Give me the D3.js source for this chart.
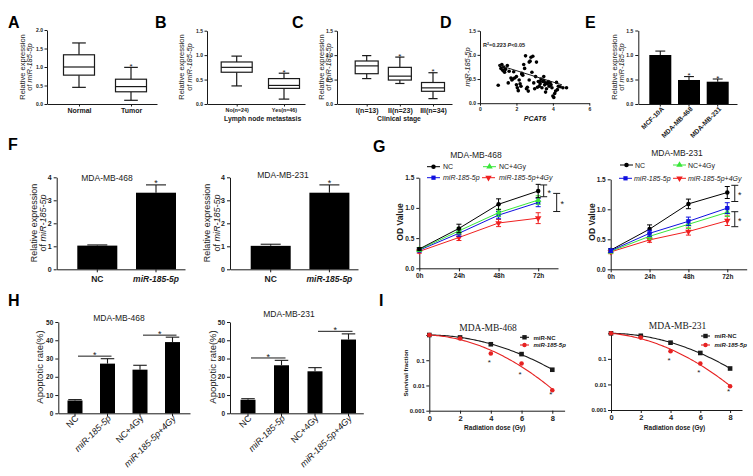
<!DOCTYPE html>
<html><head><meta charset="utf-8">
<script src="https://cdn.jsdelivr.net/npm/d3@7"></script>
<style>body{margin:0;background:#fff}svg{display:block}</style>
</head><body>
<svg id="c" width="753" height="476"></svg>
<script>
// ---------------- DATA ----------------
const catsA = ["Normal", "Tumor"];
const boxA = [[0.45, 0.78, 1.00, 1.33, 1.65], [0.10, 0.33, 0.47, 0.67, 0.99]]; // min,q1,median,q3,max
const starA = [false, true];
const ticksA = [0, 0.5, 1.0, 1.5, 2.0];

const catsB = ["No(n=24)", "Yes(n=46)"];
const boxB = [[0.37, 0.65, 0.75, 0.86, 0.98], [0.10, 0.32, 0.38, 0.52, 0.63]];
const starB = [false, true];

const catsC = ["I(n=13)", "II(n=23)", "III(n=34)"];
const boxC = [[0.52, 0.62, 0.78, 0.88, 0.99], [0.42, 0.49, 0.57, 0.75, 0.96], [0.11, 0.26, 0.33, 0.44, 0.64]];
const starC = [false, true, true];
const ticks15 = [0, 0.5, 1.0, 1.5];

const pcat6 = [1.0,1.1,1.15,1.2,1.25,1.3,1.35,1.4,1.5,1.55,1.6,1.7,1.75,1.8,1.85,1.9,2.0,2.0,2.05,2.1,2.15,2.2,2.25,2.3,2.3,2.35,2.4,2.45,2.5,2.55,2.6,2.65,2.7,2.7,2.75,2.8,2.85,2.9,2.95,3.0,3.05,3.1,3.15,3.2,3.25,3.3,3.3,3.35,3.4,3.45,3.5,3.5,3.55,3.6,3.6,3.65,3.7,3.75,3.8,3.85,3.9,3.95,4.0,4.05,4.1,4.15,4.2,4.25,4.3,4.4,4.55,4.75];
const mir185 = [0.37,0.78,0.72,0.80,0.68,0.75,0.64,0.70,0.78,0.42,0.66,0.52,0.48,0.50,0.65,0.52,0.55,0.38,0.32,0.26,0.48,0.40,0.35,0.60,0.62,0.58,0.80,0.72,0.98,0.30,0.33,0.25,0.48,0.85,0.87,0.95,0.64,0.97,0.42,0.30,0.55,0.85,0.33,0.45,0.35,0.40,0.45,0.50,0.32,0.45,0.55,0.47,0.38,0.42,0.23,0.30,0.40,0.45,0.35,0.42,0.38,0.32,0.15,0.12,0.20,0.25,0.43,0.28,0.35,0.34,0.32,0.32];
const fitDx = [1.0, 4.5];
const fitDy = [0.79, 0.38];
const ticksDx = [0, 2, 4, 6];

const cellsE = ["MCF-10A", "MDA-MB-468", "MDA-MB-231"];
const exprE = [1.00, 0.49, 0.455];
const errE = [0.08, 0.07, 0.055];
const starE = [false, true, true];

const groupsF = ["NC", "miR-185-5p"];
const exprF468 = [1.03, 3.33], errF468 = [0.03, 0.34];
const exprF231 = [1.02, 3.33], errF231 = [0.07, 0.34];
const starF = [false, true];
const ticksF = [0, 1, 2, 3, 4];

const hours = [0, 24, 48, 72];
const seriesNames = ["NC", "NC+4Gy", "miR-185-5p", "miR-185-5p+4Gy"];
const od468NC  = [0.32, 0.66, 1.06, 1.28], od468NCe  = [0.02, 0.07, 0.09, 0.11];
const od468NC4 = [0.31, 0.62, 0.92, 1.13], od468NC4e = [0.03, 0.05, 0.06, 0.07];
const od468miR = [0.30, 0.58, 0.88, 1.09], od468miRe = [0.03, 0.05, 0.06, 0.07];
const od468miR4= [0.28, 0.51, 0.75, 0.83], od468miR4e= [0.03, 0.05, 0.06, 0.09];
const od231NC  = [0.32, 0.67, 1.09, 1.28], od231NCe  = [0.02, 0.07, 0.08, 0.10];
const od231NC4 = [0.30, 0.55, 0.75, 0.95], od231NC4e = [0.03, 0.05, 0.07, 0.07];
const od231miR = [0.31, 0.60, 0.80, 1.02], od231miRe = [0.03, 0.05, 0.07, 0.09];
const od231miR4= [0.29, 0.49, 0.63, 0.81], od231miR4e= [0.03, 0.04, 0.06, 0.08];
const ticksG = [0, 0.5, 1.0, 1.5];
const brk468 = [[1.38, 1.185], [1.24, 0.94]];
const brk231 = [[1.40, 1.13], [0.96, 0.71]];

const groupsH = ["NC", "miR-185-5p", "NC+4Gy", "miR-185-5p+4Gy"];
const apo468 = [7.0, 27.2, 23.9, 39.0], apo468e = [0.5, 2.7, 2.4, 2.7];
const apo231 = [7.4, 26.3, 23.0, 40.4], apo231e = [0.6, 2.7, 2.0, 3.1];
const sig468 = [[0, 1, 31.3], [2, 3, 42.8]];
const sig231 = [[0, 1, 30.3], [2, 3, 44.9]];
const ticksH = [0, 10, 20, 30, 40, 50];

const dose = [0, 2, 4, 6, 8];
const sf468NC  = [1, 0.80, 0.43, 0.175, 0.042];
const sf468miR = [1, 0.73, 0.185, 0.074, 0.0065];
const sf231NC  = [1, 0.80, 0.43, 0.17, 0.042];
const sf231miR = [1, 0.68, 0.20, 0.066, 0.0085];
const starDoses = [4, 6, 8];
const ticksIy = [0.001, 0.01, 0.1, 1];
const ticksIx = [0, 2, 4, 6, 8];

// ---------------- HELPERS ----------------
const svg = d3.select("#c");
svg.append("rect").attr("width", 753).attr("height", 476).attr("fill", "#fff");
const FF = '"Liberation Sans", Arial, Helvetica, sans-serif';
const SERIF = '"Liberation Serif", "Times New Roman", serif';
const INK = "#1a1a1a";

function txt(x, y, parts, o = {}) {
  const size = o.size || 8;
  const t = svg.append("text").attr("x", x).attr("y", y)
    .attr("font-family", o.family || FF).attr("font-size", size)
    .attr("font-weight", o.bold ? "bold" : "normal")
    .attr("text-anchor", o.anchor || "start").attr("fill", o.fill || INK);
  if (o.rotate) t.attr("transform", `rotate(${o.rotate},${x},${y})`);
  const arr = typeof parts === "string" ? [[parts]] : parts;
  arr.forEach(p => {
    const s = t.append("tspan").text(p[0]);
    if (p[1]) s.attr("font-style", "italic");
    if (p[2]) s.attr("baseline-shift", "super").attr("font-size", size * 0.65);
  });
  return t;
}
function ln(x1, y1, x2, y2, c = INK, w = 1) {
  svg.append("line").attr("x1", x1).attr("y1", y1).attr("x2", x2).attr("y2", y2)
    .attr("stroke", c).attr("stroke-width", w);
}
function styleAxis(g, size, bold = true) {
  g.attr("font-family", FF).attr("font-size", size);
  g.select(".domain").attr("stroke", INK).attr("stroke-width", 1);
  g.selectAll(".tick line").attr("stroke", INK).attr("stroke-width", 1);
  g.selectAll(".tick text").attr("fill", INK).attr("font-weight", bold ? "bold" : "normal");
}
function leftAxis(scale, x, ticks, fmt, o = {}) {
  const g = svg.append("g").attr("transform", `translate(${x},0)`)
    .call(d3.axisLeft(scale).tickValues(ticks).tickFormat(fmt)
      .tickSize(o.tick || 3).tickSizeOuter(0).tickPadding(o.pad == null ? 2 : o.pad));
  styleAxis(g, o.size || 6, o.bold !== false);
  return g;
}
function bottomAxis(scale, y, o = {}) {
  const ax = d3.axisBottom(scale).tickSize(o.tick || 3).tickSizeOuter(0).tickPadding(o.pad == null ? 2 : o.pad);
  if (o.ticks) ax.tickValues(o.ticks);
  if (o.fmt) ax.tickFormat(o.fmt);
  const g = svg.append("g").attr("transform", `translate(0,${y})`).call(ax);
  styleAxis(g, o.size || 6, o.bold !== false);
  return g;
}
function pointScale(cats, x0, x1, c1, cN) {
  const n = cats.length, step = (cN - c1) / (n - 1);
  const p = ((x1 - x0) / step - (n - 1)) / 2;
  const al = (c1 - x0) / ((x1 - x0) - step * (n - 1));
  return d3.scalePoint().domain(cats).range([x0, x1]).padding(p).align(al);
}
function bandScale(cats, x0, x1, firstLeft, bw, step) {
  const n = cats.length, pi = 1 - bw / step;
  const po = ((x1 - x0) / step - n + pi) / 2;
  const al = (firstLeft - x0) / ((x1 - x0) - step * (n - pi));
  return d3.scaleBand().domain(cats).range([x0, x1]).paddingInner(pi).paddingOuter(po).align(al);
}
function letter(x, y, s) { txt(x, y, s, { size: 16, bold: true, fill: "#000" }); }
function relExprLabel(xb1, xb2, cy, size) {
  txt(xb1, cy, "Relative expression", { size, anchor: "middle", rotate: -90 });
  txt(xb2, cy, [["of "], ["miR-185-5p", true]], { size, anchor: "middle", rotate: -90 });
}

// ---------------- BOX PLOTS (A, B, C) ----------------
function boxPanel(cats, stats, stars, L) {
  const y = d3.scaleLinear().domain([0, L.yMax]).range([L.yb, L.yt]);
  const x = pointScale(cats, L.x0, L.x1, L.c1, L.cN);
  leftAxis(y, L.x0, L.ticks, d3.format(".1f"), { size: 5, tick: 2.5, pad: 1.5 });
  bottomAxis(x, L.yb, { size: L.catSize, tick: 2.5, pad: L.catPad });
  cats.forEach((c, i) => {
    const [mn, q1, md, q3, mx] = stats[i];
    const cx = x(c), w = L.boxW, cw = w * L.cap;
    ln(cx, y(mx), cx, y(q3), INK, 1.2);
    ln(cx, y(q1), cx, y(mn), INK, 1.2);
    ln(cx - cw, y(mx), cx + cw, y(mx), INK, 1.2);
    ln(cx - cw, y(mn), cx + cw, y(mn), INK, 1.2);
    svg.append("rect").attr("x", cx - w / 2).attr("y", y(q3)).attr("width", w)
      .attr("height", y(q1) - y(q3)).attr("fill", "#fff").attr("stroke", INK).attr("stroke-width", 1.2);
    ln(cx - w / 2, y(md), cx + w / 2, y(md), INK, 1.2);
    if (stars[i]) txt(cx, y(mx) + 1.5, "*", { size: 8, anchor: "middle" });
  });
}
letter(8, 28, "A");
boxPanel(catsA, boxA, starA, { yMax: 2, yb: 104, yt: 30, x0: 47, x1: 157, c1: 79, cN: 131, ticks: ticksA, boxW: 31, cap: 0.22, catSize: 7, catPad: 2 });
relExprLabel(25, 32, 67, 7.5);

letter(155, 28, "B");
boxPanel(catsB, boxB, starB, { yMax: 1.5, yb: 104, yt: 30.7, x0: 207, x1: 305, c1: 236.7, cN: 284, ticks: ticks15, boxW: 31, cap: 0.17, catSize: 5.4, catPad: 1.5 });
relExprLabel(184, 192, 67, 7.5);
txt(262.7, 120.5, "Lymph node metastasis", { size: 6.8, bold: true, anchor: "middle" });

letter(292, 28, "C");
boxPanel(catsC, boxC, starC, { yMax: 1.5, yb: 104, yt: 30.7, x0: 337, x1: 452, c1: 366.7, cN: 433, ticks: ticks15, boxW: 23, cap: 0.2, catSize: 7, catPad: 2 });
relExprLabel(323.5, 331, 67, 7.5);
txt(399, 120.5, "Clinical stage", { size: 6.8, bold: true, anchor: "middle" });

// ---------------- SCATTER (D) ----------------
letter(440, 28, "D");
{
  const x = d3.scaleLinear().domain([0, 6]).range([480, 589.3]);
  const y = d3.scaleLinear().domain([0, 1.5]).range([103.2, 30.7]);
  leftAxis(y, 480, ticks15, d3.format(".1f"), { size: 5, tick: 2.5, pad: 1.5 });
  bottomAxis(x, 103.2, { size: 5, tick: 2.5, pad: 2, ticks: ticksDx, fmt: d3.format("d") });
  svg.append("g").selectAll("circle").data(pcat6).join("circle")
    .attr("cx", d => x(d)).attr("cy", (d, i) => y(mir185[i])).attr("r", 1.8).attr("fill", "#000");
  ln(x(fitDx[0]), y(fitDy[0]), x(fitDx[1]), y(fitDy[1]), INK, 1);
  txt(483, 47, [["R"], ["2", false, true], ["=0.223 "], ["P", true], ["<0.05"]], { size: 5.5, bold: true });
  txt(535, 120.5, [["PCAT6", true]], { size: 7, bold: true, anchor: "middle" });
  txt(470, 67, [["miR-185-5p", true]], { size: 7.5, anchor: "middle", rotate: -90 });
}

// ---------------- BAR PANELS ----------------
function barPanel(cats, vals, errs, L) {
  const y = d3.scaleLinear().domain(L.yDom).range([L.yb, L.yt]);
  const x = bandScale(cats, L.x0, L.x1, L.first, L.bw, L.step);
  const bw = x.bandwidth();
  svg.append("g").selectAll("rect").data(cats).join("rect")
    .attr("x", c => x(c)).attr("width", bw)
    .attr("y", (c, i) => y(vals[i])).attr("height", (c, i) => y(0) - y(vals[i])).attr("fill", "#000");
  cats.forEach((c, i) => {
    const cx = x(c) + bw / 2, top = y(vals[i] + errs[i]);
    ln(cx, y(vals[i]), cx, top, INK, 1.1);
    ln(cx - bw * L.cap / 2, top, cx + bw * L.cap / 2, top, INK, 1.1);
    if (L.stars && L.stars[i]) txt(cx, top + 1.5, "*", { size: L.starSize || 8, anchor: "middle" });
  });
  leftAxis(y, L.x0, L.ticks, L.fmt || d3.format("d"), { size: L.tickSize || 7, tick: 3, pad: 2 });
  bottomAxis(x, L.yb, { fmt: () => "", tick: L.xtick == null ? 0 : L.xtick });
  return { x, y, bw };
}

// E
letter(585, 28, "E");
{
  const r = barPanel(cellsE, exprE, errE, { yDom: [0, 1.5], yb: 104, yt: 30.5, x0: 638.3, x1: 737, first: 649.3, bw: 22, step: 28.7, cap: 0.45, stars: starE, starSize: 8, ticks: ticks15, fmt: d3.format(".1f"), tickSize: 5, xtick: 2.5 });
  cellsE.forEach(c => txt(r.x(c) + r.bw / 2 + 4, 109.5, c, { size: 6.6, bold: true, anchor: "end", rotate: -45 }));
  relExprLabel(616.5, 623.5, 67, 7.5);
}

// F
letter(8, 150, "F");
function panelF(vals, errs, x0, x1, first, title, tx, ty, lb1, lb2) {
  const r = barPanel(groupsF, vals, errs, { yDom: [0, 4], yb: 269.3, yt: 177.3, x0, x1, first, bw: 40, step: 58.7, cap: 0.5, stars: starF, starSize: 9, ticks: ticksF, tickSize: 7 });
  groupsF.forEach((c, i) => txt(r.x(c) + r.bw / 2, 281.5, [[c, i === 1]], { size: 8.5, bold: true, anchor: "middle" }));
  txt(tx, ty, title, { size: 8.5, anchor: "middle" });
  relExprLabel(lb1, lb2, 223, 9);
}
panelF(exprF468, errF468, 56.7, 185, 77.3, "MDA-MB-468", 107, 180.5, 36.5, 46);
panelF(exprF231, errF231, 230, 358, 250.7, "MDA-MB-231", 283, 177.5, 210, 219.5);

// H
letter(8, 306, "H");
function panelH(vals, errs, sig, x0, x1, first, step, title, tx, ty, lbx) {
  const r = barPanel(groupsH, vals, errs, { yDom: [0, 50], yb: 413.3, yt: 322, x0, x1, first, bw: 15, step, cap: 0.9, ticks: ticksH, tickSize: 6.5 });
  groupsH.forEach((c, i) => txt(r.x(c) + r.bw / 2 + 4, 419, [[c, i % 2 === 1]], { size: 9, anchor: "end", rotate: -45 }));
  sig.forEach(([a, b, v]) => {
    const xa = r.x(groupsH[a]) + r.bw / 2 + 3, xb = r.x(groupsH[b]) + r.bw / 2 + 4;
    ln(xa, r.y(v), xb, r.y(v), INK, 1);
    txt((xa + xb) / 2, r.y(v) + 2, "*", { size: 9, anchor: "middle" });
  });
  txt(tx, ty, title, { size: 8.5, anchor: "middle" });
  txt(lbx, 367, "Apoptotic rate(%)", { size: 9.5, anchor: "middle", rotate: -90 });
}
panelH(apo468, apo468e, sig468, 58.3, 190, 67.5, 32.5, "MDA-MB-468", 119, 321, 42.5);
panelH(apo231, apo231e, sig231, 230, 363.3, 240.5, 33.5, "MDA-MB-231", 289, 317, 215.5);

// ---------------- GROWTH CURVES (G) ----------------
letter(373, 152, "G");
const colG = { "NC": "#000000", "NC+4Gy": "#39e639", "miR-185-5p": "#1010e0", "miR-185-5p+4Gy": "#f02020" };
const symG = { "NC": [d3.symbolCircle, 16, 0], "NC+4Gy": [d3.symbolTriangle, 18, 0], "miR-185-5p": [d3.symbolSquare, 18, 0], "miR-185-5p+4Gy": [d3.symbolTriangle, 18, 180] };
function marker(name, x, y) {
  const [s, sz, rot] = symG[name];
  svg.append("path").attr("d", d3.symbol(s, sz)()).attr("fill", colG[name])
    .attr("transform", `translate(${x},${y}) rotate(${rot})`);
}
function panelG(series, brk, L) {
  const x = d3.scaleLinear().domain([0, 84]).range([L.x0, L.x1]);
  const y = d3.scaleLinear().domain([0, 1.5]).range([L.yb, L.yt]);
  leftAxis(y, L.x0, ticksG, d3.format(".1f"), { size: 6.5, tick: 3, pad: 2 });
  bottomAxis(x, L.yb, { size: 6.5, tick: 3, pad: 2, ticks: hours, fmt: d => d + "h" });
  const line = d3.line().x(d => x(d[0])).y(d => y(d[1]));
  series.forEach(([name, v, e]) => {
    const c = colG[name];
    svg.append("path").attr("d", line(hours.map((h, i) => [h, v[i]]))).attr("fill", "none").attr("stroke", c).attr("stroke-width", 1);
    hours.forEach((h, i) => {
      const cx = x(h);
      ln(cx, y(v[i] - e[i]), cx, y(v[i] + e[i]), c, 1);
      ln(cx - 2.5, y(v[i] + e[i]), cx + 2.5, y(v[i] + e[i]), c, 1);
      ln(cx - 2.5, y(v[i] - e[i]), cx + 2.5, y(v[i] - e[i]), c, 1);
      marker(name, cx, y(v[i]));
    });
  });
  brk.forEach(([a, b], k) => {
    const bx = x(72) + L.bx[k];
    ln(bx, y(a), bx, y(b), INK, 1);
    ln(bx - 3.5, y(a), bx + 3.5, y(a), INK, 1);
    ln(bx - 3.5, y(b), bx + 3.5, y(b), INK, 1);
    txt(bx + L.sx, (y(a) + y(b)) / 2 + 5, "*", { size: 9, anchor: "middle" });
  });
  txt(L.tx, L.ty, L.title, { size: 8.5, anchor: "middle" });
  txt(L.lbx, 222, "OD Value", { size: 8.5, bold: true, anchor: "middle", rotate: -90 });
  // legend
  L.leg.forEach(([name, lx, ly, tx]) => {
    ln(lx, ly, lx + 13, ly, colG[name], 1);
    marker(name, lx + 6.5, ly);
    txt(tx, ly + 2.5, [[name, name.startsWith("miR")]], { size: 7, anchor: "start" });
  });
}
panelG([["miR-185-5p+4Gy", od468miR4, od468miR4e], ["miR-185-5p", od468miR, od468miRe], ["NC+4Gy", od468NC4, od468NC4e], ["NC", od468NC, od468NCe]],
  brk468, { x0: 419.3, x1: 558, yb: 268.3, yt: 177.7, bx: [5.5, 18.5], sx: 5.5, title: "MDA-MB-468", tx: 476, ty: 158, lbx: 403,
    leg: [["NC", 427, 166.7, 443], ["NC+4Gy", 483, 166.7, 499], ["miR-185-5p", 427, 177.7, 443], ["miR-185-5p+4Gy", 482, 177.7, 499]] });
panelG([["NC", od231NC, od231NCe], ["miR-185-5p+4Gy", od231miR4, od231miR4e], ["NC+4Gy", od231NC4, od231NC4e], ["miR-185-5p", od231miR, od231miRe]],
  brk231, { x0: 610.7, x1: 746.7, yb: 269.3, yt: 179.3, bx: [7.5, 7.5], sx: 5, title: "MDA-MB-231", tx: 677, ty: 155.5, lbx: 595,
    leg: [["NC", 620, 165, 635], ["NC+4Gy", 673, 165, 688], ["miR-185-5p", 619, 178.3, 634], ["miR-185-5p+4Gy", 673, 178.3, 688]] });

// ---------------- SURVIVAL CURVES (I) ----------------
letter(379, 306, "I");
function lqFit(D, S) { // least squares fit of ln S = -a D - b D^2
  let s2 = 0, s3 = 0, s4 = 0, r1 = 0, r2 = 0;
  D.forEach((d, i) => { const l = -Math.log(S[i]); s2 += d * d; s3 += d * d * d; s4 += d ** 4; r1 += d * l; r2 += d * d * l; });
  const b = (r2 - s3 * r1 / s2) / (s4 - s3 * s3 / s2), a = (r1 - s3 * b) / s2;
  return [a, b];
}
function panelI(nc, mir, L) {
  const x = d3.scaleLinear().domain([0, 8.8]).range([L.x0, L.x1]);
  const y = d3.scaleLog().domain([0.001, 1]).range([L.yb, L.yt]);
  leftAxis(y, L.x0, ticksIy, d => d === 1 ? "" : String(d), { size: 6, tick: 3, pad: 1.5 });
  bottomAxis(x, L.yb, { size: 7.5, tick: 3, pad: 2, ticks: ticksIx, fmt: d3.format("d") });
  const line = d3.line().x(d => x(d[0])).y(d => y(d[1]));
  [[nc, "#1a1a1a"], [mir, "#e62222"]].forEach(([s, c], k) => {
    const [a, b] = lqFit(dose, s);
    const pts = d3.range(0, 8.001, 0.1).map(d => [d, Math.exp(-a * d - b * d * d)]);
    svg.append("path").attr("d", line(pts)).attr("fill", "none").attr("stroke", c).attr("stroke-width", 1.1);
    dose.forEach((d, i) => {
      if (k === 0) svg.append("rect").attr("x", x(d) - 2.3).attr("y", y(s[i]) - 2.3).attr("width", 4.6).attr("height", 4.6).attr("fill", c);
      else svg.append("circle").attr("cx", x(d)).attr("cy", y(s[i])).attr("r", 2.3).attr("fill", c);
    });
  });
  starDoses.forEach(d => {
    const i = dose.indexOf(d);
    txt(x(d) - 1.5, y(mir[i]) + L.starOff[starDoses.indexOf(d)], "*", { size: 8, anchor: "middle" });
  });
  txt(L.tx, L.ty, L.title, { size: 9.5, family: SERIF, anchor: "middle" });
  txt((L.x0 + x(8)) / 2 + 4, 429.5, "Radiation dose (Gy)", { size: 6.5, bold: true, anchor: "middle" });
  if (L.ylab) txt(408, 373, "Survival fraction", { size: 6, bold: true, anchor: "middle", rotate: -90 });
  ln(L.lx, L.ly1, L.lx + 9, L.ly1, "#1a1a1a", 1.1);
  svg.append("rect").attr("x", L.lx + 4.5 - 2.2).attr("y", L.ly1 - 2.2).attr("width", 4.4).attr("height", 4.4).attr("fill", "#1a1a1a");
  ln(L.lx, L.ly2, L.lx + 9, L.ly2, "#e62222", 1.1);
  svg.append("circle").attr("cx", L.lx + 4.5).attr("cy", L.ly2).attr("r", 2.2).attr("fill", "#e62222");
  txt(L.lx + 13.5, L.ly1 + 2.2, "miR-NC", { size: 6, bold: true });
  txt(L.lx + 13.5, L.ly2 + 2.2, [["miR-185-5p", true]], { size: 6, bold: true });
}
panelI(sf468NC, sf468miR, { x0: 429.3, x1: 564.6, yb: 410.7, yt: 335, title: "MDA-MB-468", tx: 488, ty: 330.5, ylab: true, lx: 520, ly1: 337.3, ly2: 345, starOff: [12, 13, 7] });
panelI(sf231NC, sf231miR, { x0: 611, x1: 742, yb: 410, yt: 333.3, title: "MDA-MB-231", tx: 677.5, ty: 328.5, ylab: false, lx: 701, ly1: 336, ly2: 345, starOff: [12, 12, 8] });
</script>
</body></html>
